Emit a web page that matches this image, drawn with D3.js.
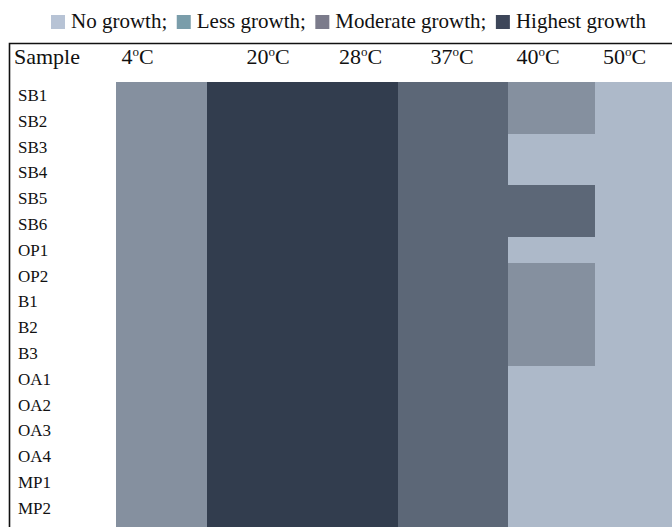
<!DOCTYPE html>
<html>
<head>
<meta charset="utf-8">
<script src="https://cdn.jsdelivr.net/npm/d3@7"></script>
<style>
  html, body { margin: 0; padding: 0; background: #fff; }
  svg { display: block; }
  text { font-family: "Liberation Serif", "Times New Roman", serif; fill: #111; }
</style>
</head>
<body>
<svg id="chart" width="672" height="527"></svg>
<script>
// Growth levels, in legend order
const levels = ["No growth", "Less growth", "Moderate growth", "Highest growth"];
// Temperatures tested (°C)
const temperatures = ["4", "20", "28", "37", "40", "50"];
// Isolates
const samples = ["SB1", "SB2", "SB3", "SB4", "SB5", "SB6", "OP1", "OP2", "B1", "B2", "B3",
                 "OA1", "OA2", "OA3", "OA4", "MP1", "MP2"];
// Growth level index (0 = none .. 3 = highest) per sample at each temperature
const growth4  = [1, 1, 1, 1, 1, 1, 1, 1, 1, 1, 1, 1, 1, 1, 1, 1, 1];
const growth20 = [3, 3, 3, 3, 3, 3, 3, 3, 3, 3, 3, 3, 3, 3, 3, 3, 3];
const growth28 = [3, 3, 3, 3, 3, 3, 3, 3, 3, 3, 3, 3, 3, 3, 3, 3, 3];
const growth37 = [2, 2, 2, 2, 2, 2, 2, 2, 2, 2, 2, 2, 2, 2, 2, 2, 2];
const growth40 = [1, 1, 0, 0, 2, 2, 0, 1, 1, 1, 1, 0, 0, 0, 0, 0, 0];
const growth50 = [0, 0, 0, 0, 0, 0, 0, 0, 0, 0, 0, 0, 0, 0, 0, 0, 0];
const growthByTemp = [growth4, growth20, growth28, growth37, growth40, growth50];

// ---- layout ----
const W = 672, H = 527;
const svg = d3.select("#chart");
const gridTop = 82, rowH = 25.8, gridLeft = 116;
const colWidths = [91, 95.5, 95.5, 109.7, 87.3, 78];   // table column widths
const headerX = [121.5, 246.5, 339, 430.5, 516.5, 603]; // header label anchors

const colEdges = colWidths.reduce((acc, w) => { acc.push(acc[acc.length - 1] + w); return acc; }, [gridLeft]);
const x = d3.scaleOrdinal().domain(temperatures).range(colEdges.slice(0, -1));
const xw = d3.scaleOrdinal().domain(temperatures).range(colWidths);
const xh = d3.scaleOrdinal().domain(temperatures).range(headerX);
const y = d3.scaleBand().domain(samples).range([gridTop, gridTop + rowH * samples.length]);

const cellColor = d3.scaleOrdinal().domain(d3.range(4))
  .range(["#adb9c9", "#85909f", "#5c6777", "#323d4e"]);
const legendColor = d3.scaleOrdinal().domain(levels)
  .range(["#b7c3d5", "#7a9daa", "#7b7b8b", "#3d4659"]);

// ---- cells ----
const cells = [];
temperatures.forEach((t, ti) => samples.forEach((s, si) => cells.push({ t, s, si, v: growthByTemp[ti][si] })));
const lastSample = samples[samples.length - 1];
svg.append("g").selectAll("rect").data(cells).join("rect")
  .attr("x", d => x(d.t))
  .attr("y", d => y(d.s))
  .attr("width", d => xw(d.t) + 0.5)
  .attr("height", d => d.s === lastSample ? H - y(d.s) : y.bandwidth() + 0.5)
  .attr("fill", d => cellColor(d.v))
  .attr("shape-rendering", "crispEdges");

// ---- frame (top and left rules) ----
svg.append("path")
  .attr("d", `M9.5,${H} V43.5 H${W}`)
  .attr("fill", "none").attr("stroke", "#111").attr("stroke-width", 1.6);

// ---- header row ----
const header = svg.append("g").attr("font-size", 22);
header.append("text").attr("x", 14).attr("y", 64).text("Sample");
temperatures.forEach(t => {
  const tx = header.append("text").attr("x", xh(t)).attr("y", 64);
  tx.append("tspan").text(t);
  tx.append("tspan").attr("font-size", 13).attr("dy", -8.5).text("o");
  tx.append("tspan").attr("dy", 8.5).text("C");
});

// ---- row labels ----
svg.append("g").selectAll("text").data(samples).join("text")
  .attr("x", 18)
  .attr("y", d => y(d) + y.bandwidth() / 2 + 6)
  .attr("font-size", 17)
  .text(d => d);

// ---- legend ----
const legend = svg.append("g").attr("font-size", 21);
let lx = 51;
levels.forEach((lv, i) => {
  legend.append("rect")
    .attr("x", lx).attr("y", 15).attr("width", 14).attr("height", 14)
    .attr("fill", legendColor(lv));
  lx += 14 + 6;
  const t = legend.append("text").attr("x", lx).attr("y", 28)
    .text(lv + (i < levels.length - 1 ? ";" : ""));
  lx += t.node().getComputedTextLength() + 9.5;
});
</script>
</body>
</html>
